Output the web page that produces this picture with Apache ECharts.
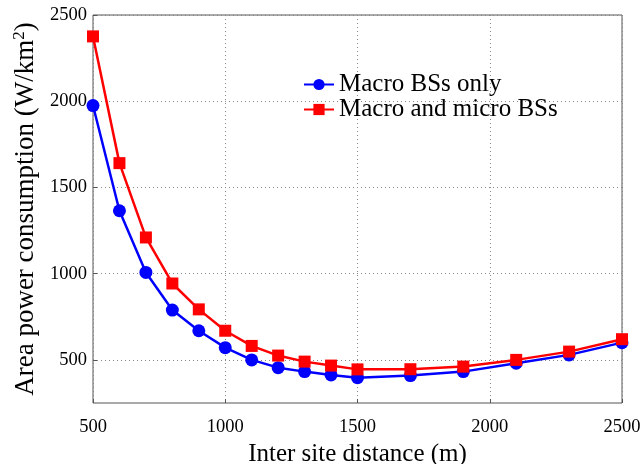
<!DOCTYPE html>
<html>
<head>
<meta charset="utf-8">
<script src="https://cdn.jsdelivr.net/npm/echarts@6/dist/echarts.min.js"></script>
<style>
  html, body { margin: 0; padding: 0; background: #fff; }
  #chart { width: 640px; height: 464px; }
</style>
</head>
<body>
<div id="chart"></div>
<script>
// inter site distance (m)
var distances = [500, 600, 700, 800, 900, 1000, 1100, 1200, 1300, 1400, 1500, 1700, 1900, 2100, 2300, 2500]
var macroOnly = [1975, 1365, 1007, 789, 669, 571, 500, 455, 432, 413, 397, 409, 432, 481, 529, 600]
var macroMicro = [2376, 1641, 1210, 943, 793, 669, 581, 525, 490, 467, 445, 446, 461, 500, 548, 620]
var xTicks = [500, 1000, 1500, 2000, 2500]
var yTicks = [500, 1000, 1500, 2000, 2500]

var font = 'Liberation Serif'

function pairs(ys) {
    return distances.map(function (d, i) { return [d, ys[i]] })
}

function plain(v) { return String(v) }

var chart = echarts.init(document.getElementById('chart'))

var option = {
    animation: false,
    textStyle: { fontFamily: font },
    grid: {
        left: 93, right: 18, top: 15, bottom: 61,
        outerBoundsMode: 'none',
        show: true, borderColor: '#555', borderWidth: 1
    },
    legend: {
        orient: 'vertical',
        left: 298,
        top: 67,
        itemWidth: 30,
        itemHeight: 14,
        itemGap: 0,
        textStyle: { fontFamily: font, fontSize: 25, color: '#000' },
        data: ['Macro BSs only', 'Macro and micro BSs']
    },
    xAxis: {
        type: 'value',
        min: 500, max: 2500, interval: 500,
        name: 'Inter site distance (m)',
        nameLocation: 'middle',
        nameGap: 35,
        nameTextStyle: { fontFamily: font, fontSize: 25, color: '#000' },
        axisLine: { show: false },
        axisTick: { show: true, inside: true, length: 4, lineStyle: { color: '#555' } },
        axisLabel: { fontFamily: font, fontSize: 18.5, color: '#000', margin: 15, formatter: plain },
        splitLine: { show: true, lineStyle: { type: [1, 3], color: '#888' } }
    },
    yAxis: {
        type: 'value',
        min: 250, max: 2500,
        name: 'Area power consumption (W/km{sup|2})',
        nameLocation: 'middle',
        nameGap: 52,
        nameTextStyle: {
            fontFamily: font, fontSize: 27, color: '#000',
            rich: { sup: { fontFamily: font, fontSize: 17, color: '#000', verticalAlign: 'top', padding: [0, 0, 13, 0] } }
        },
        axisLine: { show: false },
        axisTick: { show: true, inside: true, length: 4, customValues: yTicks, lineStyle: { color: '#555' } },
        axisLabel: { fontFamily: font, fontSize: 18.5, color: '#000', margin: 6, customValues: yTicks, formatter: plain },
        splitLine: { show: true, lineStyle: { type: [1, 3], color: '#888' } }
    },
    series: [
        {
            name: 'Macro BSs only',
            type: 'line',
            data: pairs(macroOnly),
            color: '#0000ff',
            symbol: 'circle',
            symbolSize: 13,
            lineStyle: { width: 2.5 },
            z: 3
        },
        {
            name: 'Macro and micro BSs',
            type: 'line',
            data: pairs(macroMicro),
            color: '#ff0000',
            symbol: 'rect',
            symbolSize: 12,
            lineStyle: { width: 2.5 },
            z: 4
        }
    ]
}

chart.setOption(option)
</script>
</body>
</html>
